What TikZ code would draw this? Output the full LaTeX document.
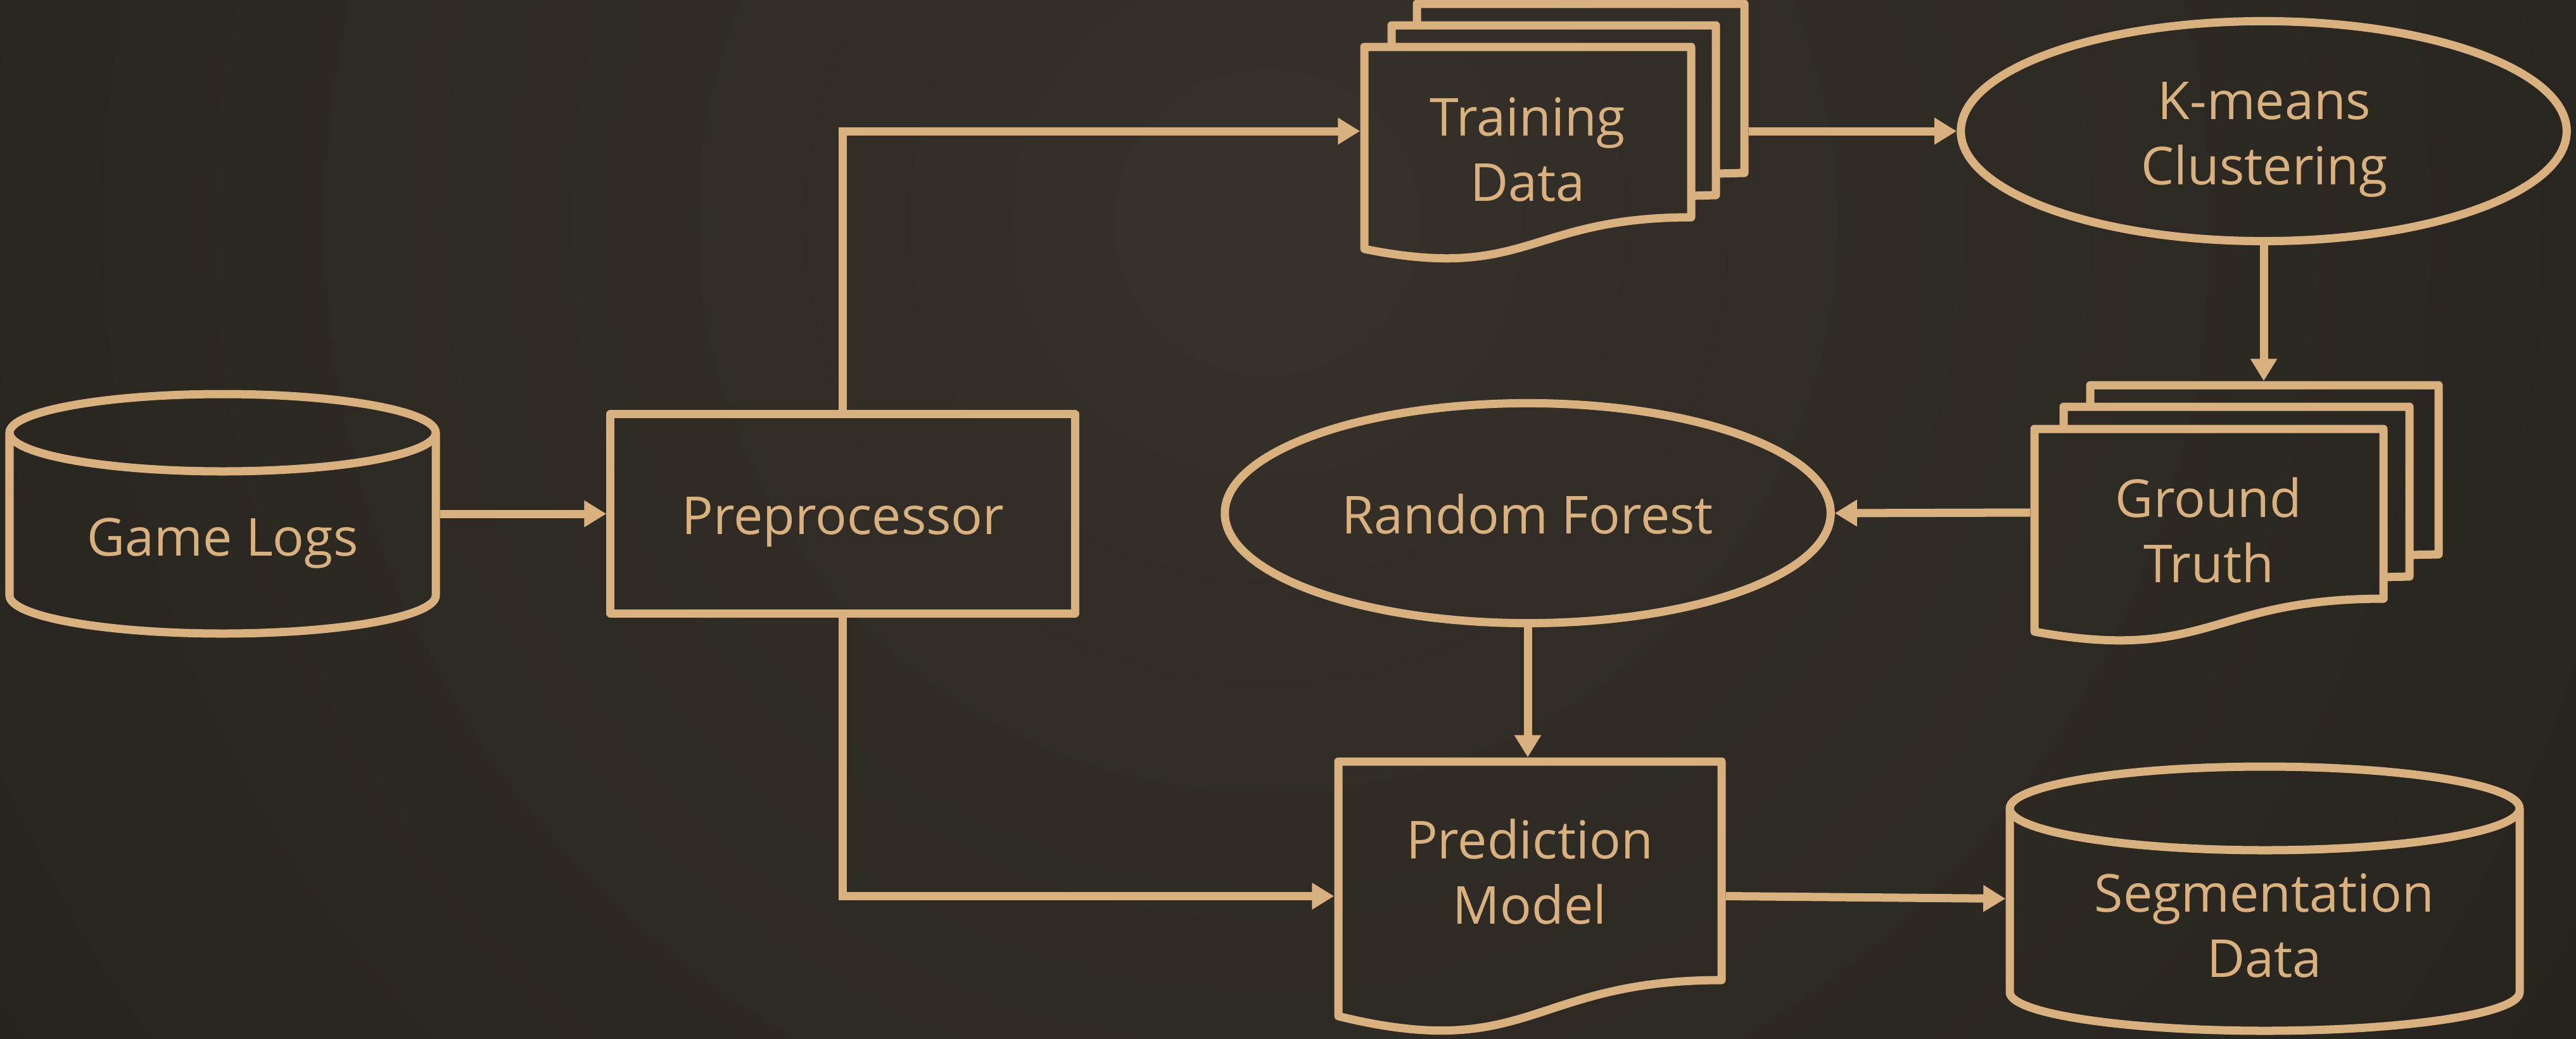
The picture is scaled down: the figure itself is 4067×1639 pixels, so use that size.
\documentclass[tikz,border=0pt]{standalone}
\usepackage{fontspec}
\setmainfont{Open Sans}
\usetikzlibrary{arrows.meta,shapes.geometric,calc}

\definecolor{ink}{HTML}{D9B17F}
\definecolor{bgin}{HTML}{36312A}
\definecolor{bgout}{HTML}{1C1915}

\tikzset{
  outline/.style={draw=ink, line width=0.13cm, line join=round},
  box/.style={draw=none, inner sep=0pt, outer sep=0.065cm, rectangle},
  procbox/.style={outline, rectangle, inner sep=0pt, outer sep=0.065cm},
  oval/.style={outline, ellipse, inner sep=0pt, outer sep=0.065cm,
    minimum width=9.56cm, minimum height=3.47cm},
  lbl/.style={text=ink, anchor=base, align=center, inner sep=0pt,
    font=\fontsize{23.5pt}{29.2pt}\selectfont},
  arr/.style={draw=ink, line width=0.13cm,
    -{Triangle[length=0.35cm, width=0.40cm]}},
}

\begin{document}
\begin{tikzpicture}[x=0.01cm, y=-0.01cm]
\useasboundingbox (0,0) rectangle (4067,1639);

% backdrop: soft radial glow
\begin{scope}
  \clip (0,0) rectangle (4067,1639);
  \shade[inner color=bgin, outer color=bgout] (2000,350) circle [radius=4200];
\end{scope}

% ---------- Game Logs (database) ----------
\node[box, minimum width=6.73cm, minimum height=3.78cm] (gl) at (351.5,811) {};
\draw[outline] (15,683) -- (15,940)
  .. controls (15,973) and (165.6,1000) .. (351.5,1000)
  .. controls (537.4,1000) and (688,973) .. (688,940) -- (688,683);
\draw[outline] (351.5,683) ellipse [x radius=336.5, y radius=61];
\node[lbl] (gltext) at (351.5,877) {Game Logs};

% ---------- Preprocessor ----------
\node[procbox, minimum width=7.33cm, minimum height=3.14cm] (pre) at (1330.5,811) {};
\node[lbl] (pretext) at (1331,843) {Preprocessor};

% ---------- Training Data (multi-document) ----------
\node[box, minimum width=6.00cm, minimum height=4.02cm] (td) at (2454,207) {};
\draw[outline] (2237,40) -- (2237,6) -- (2754,6) -- (2754,273) -- (2709,274);
\draw[outline] (2197,74) -- (2197,40) -- (2709,40) -- (2709,308) -- (2670,309);
\draw[outline] (2154,74) -- (2670,74) -- (2670,343)
  .. controls (2412,343) and (2412,445) .. (2154,393) -- cycle;
\node[lbl] (tdtext) at (2412,317) {Training\\Data};

% ---------- K-means Clustering ----------
\node[oval] (km) at (3574,207) {};
\node[lbl] (kmtext) at (3575,291) {K-means\\Clustering};

% ---------- Ground Truth (multi-document) ----------
\node[box, minimum width=6.38cm, minimum height=4.02cm] (gt) at (3531,809) {};
\draw[outline] (3300,642) -- (3300,608) -- (3850,608) -- (3850,875) -- (3804,876);
\draw[outline] (3258,677) -- (3258,642) -- (3804,642) -- (3804,910) -- (3763,911);
\draw[outline] (3212,677) -- (3763,677) -- (3763,945)
  .. controls (3487,945) and (3487,1047) .. (3212,997) -- cycle;
\node[lbl] (gttext) at (3487,919) {Ground\\Truth};

% ---------- Random Forest ----------
\node[oval] (rf) at (2412,810) {};
\node[lbl] (rftext) at (2412,842) {Random Forest};

% ---------- Prediction Model (document) ----------
\node[box, minimum width=6.05cm, minimum height=4.25cm] (pm) at (2415.5,1414.5) {};
\draw[outline] (2113,1202) -- (2718,1202) -- (2718,1547)
  .. controls (2415.5,1547) and (2415.5,1678) .. (2113,1604) -- cycle;
\node[lbl] (pmtext) at (2415,1458) {Prediction\\Model};

% ---------- Segmentation Data (database) ----------
\node[box, minimum width=8.05cm, minimum height=4.17cm] (seg) at (3575.5,1418.5) {};
\draw[outline] (3173,1276) -- (3173,1566)
  .. controls (3173,1599.7) and (3353.2,1627) .. (3575.5,1627)
  .. controls (3797.8,1627) and (3978,1599.7) .. (3978,1566) -- (3978,1276);
\draw[outline] (3575.5,1276) ellipse [x radius=402.5, y radius=66];
\node[lbl] (segtext) at (3575,1542) {Segmentation\\Data};

% ---------- connectors ----------
\draw[arr] (gl.east) -- (pre.west);
\draw[arr] (pre.north) |- (td.west);
\draw[arr] (td.east) -- (km.west);
\draw[arr] (km.south) -- (km.south |- gt.north);
\draw[arr] (gt.west) -- (rf.east);
\draw[arr] (rf.south) -- (rf.south |- pm.north);
\draw[arr] (pre.south) |- (pm.west);
\draw[arr] (pm.east) -- (seg.west);
\end{tikzpicture}
\end{document}
